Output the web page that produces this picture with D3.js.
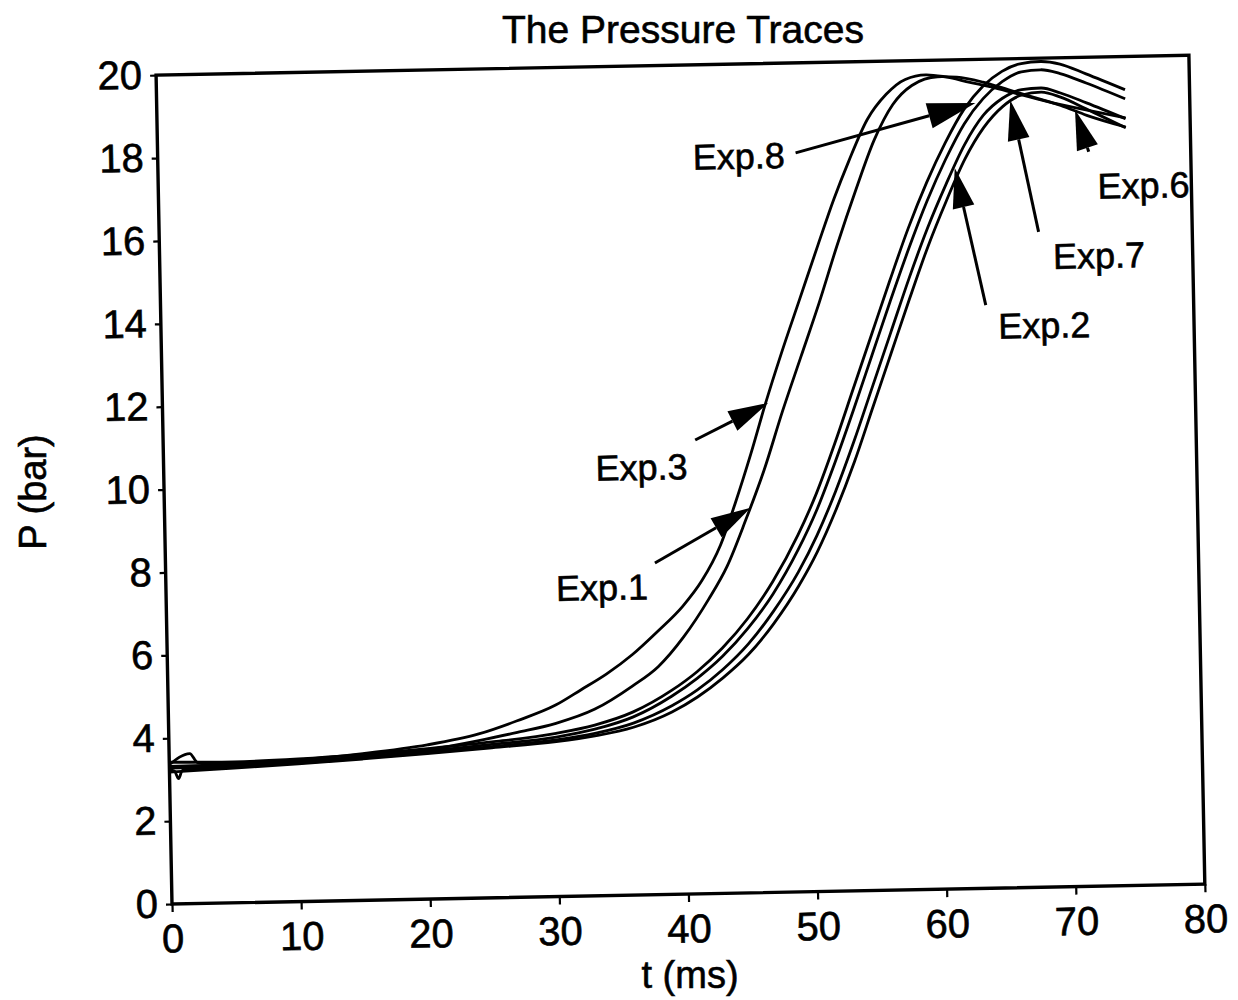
<!DOCTYPE html>
<html>
<head>
<meta charset="utf-8">
<title>The Pressure Traces</title>
<script src="https://cdn.jsdelivr.net/npm/d3@7"></script>
<style>
  body { margin: 0; background: #fff; }
  svg { display: block; }
  text { font-family: "Liberation Sans", Arial, Helvetica, sans-serif; fill: #000; stroke: #000; stroke-width: 0.6px; }
</style>
</head>
<body>
<svg id="chart" width="1238" height="1000"></svg>
<script>
// ---- data: time (ms) vs pressure (bar) ----
const xTicks = [0, 10, 20, 30, 40, 50, 60, 70, 80];
const yTicks = [0, 2, 4, 6, 8, 10, 12, 14, 16, 18, 20];

const exp3 = [[0,3.36],[1.6,3.62],[2.2,3.4],[5,3.38],[10,3.42],[15,3.54],[20,3.72],[24,3.96],[27,4.26],[30,4.62],[32,4.98],[34,5.35],[36,5.8],[38,6.35],[40,6.95],[41.5,7.55],[43,8.4],[44.2,9.4],[45.5,10.6],[46.7,11.8],[48,13.0],[49.5,14.3],[51,15.6],[52.3,16.7],[53.5,17.6],[55,18.6],[56.5,19.2],[58,19.55],[59.6,19.65],[61,19.6],[63,19.45],[65,19.3],[67,19.12],[69,18.95],[71,18.8],[73,18.66],[75,18.52]];
const exp1 = [[0,3.28],[5,3.3],[10,3.35],[15,3.46],[20,3.6],[24,3.8],[27,3.98],[30,4.18],[33,4.5],[36,5.05],[38,5.5],[40,6.2],[42,7.1],[43.5,7.9],[45,9.0],[46.5,10.2],[48,11.6],[49.5,12.9],[51,14.2],[52.5,15.6],[54,16.9],[55.5,18.1],[57,18.95],[58.5,19.4],[60.5,19.6],[62,19.58],[64,19.45],[66,19.25],[68,19.05],[70,18.85],[72,18.6],[75,18.3]];
const exp8 = [[0,3.42],[5,3.4],[10,3.44],[15,3.52],[20,3.63],[25,3.76],[30,3.94],[33,4.12],[36,4.42],[39,4.92],[41,5.36],[43,5.92],[45,6.62],[47,7.5],[49,8.6],[50.5,9.6],[52,10.8],[53.5,12.1],[55,13.4],[56.5,14.7],[58,15.95],[59.5,17.05],[61,18.0],[62.5,18.8],[64,19.35],[65.5,19.7],[67,19.88],[68.5,19.92],[70,19.85],[72,19.6],[75,19.2]];
const exp7 = [[0,3.32],[5,3.34],[10,3.38],[15,3.47],[20,3.57],[25,3.7],[30,3.85],[33,4.02],[36,4.3],[39,4.78],[41,5.2],[43,5.72],[45,6.38],[47,7.2],[49,8.25],[50.5,9.2],[52,10.35],[53.5,11.6],[55,12.9],[56.5,14.2],[58,15.45],[59.5,16.6],[61,17.6],[62.5,18.45],[64,19.05],[65.5,19.45],[67,19.68],[68.5,19.72],[70,19.62],[72,19.38],[75,18.98]];
const exp2 = [[0,3.24],[0.4,3.2],[0.7,3.02],[1.0,3.22],[5,3.29],[10,3.34],[15,3.43],[20,3.53],[25,3.65],[30,3.78],[33,3.92],[36,4.15],[39,4.55],[41,4.92],[43,5.4],[45,6.0],[47,6.78],[49,7.72],[50.5,8.6],[52,9.65],[53.5,10.85],[55,12.15],[56.5,13.45],[58,14.75],[59.5,15.95],[61,17.0],[62.5,17.95],[64,18.65],[65.5,19.05],[67,19.25],[68.5,19.28],[70,19.15],[72,18.9],[75,18.5]];
const exp6 = [[0,3.18],[5,3.25],[10,3.32],[15,3.41],[20,3.51],[25,3.62],[30,3.74],[33,3.86],[36,4.05],[39,4.4],[41,4.75],[43,5.2],[45,5.75],[47,6.48],[49,7.38],[50.5,8.2],[52,9.2],[53.5,10.35],[55,11.65],[56.5,12.95],[58,14.25],[59.5,15.5],[61,16.6],[62.5,17.6],[64,18.35],[65.5,18.85],[67,19.12],[68.5,19.18],[70,19.05],[72,18.75],[75,18.28]];

const series = [exp3, exp1, exp8, exp7, exp2, exp6];

// label text anchor (baseline centre), arrow tail and arrow tip, all in (t, P)
const labelNames = ["Exp.8", "Exp.6", "Exp.7", "Exp.2", "Exp.3", "Exp.1"];
const labelAt    = [[45.0,17.47],[76.3,16.58],[72.75,14.91],[68.4,13.25],[37.0,10.01],[33.76,7.13]];
const arrowFrom  = [[49.4,17.83],[72.1,17.72],[68.1,15.81],[63.9,14.07],[41.2,10.95],[37.9,8.0]];
const arrowTo    = [[63.4,18.95],[71.1,18.74],[66.1,19.0],[61.7,17.39],[46.9,11.81],[45.4,9.29]];

// ---- layout ----
const W = 1033, H = 829;
const x = d3.scaleLinear().domain([0, 80]).range([0, W]);
const y = d3.scaleLinear().domain([0, 20]).range([H, 0]);

const svg = d3.select("#chart");

svg.append("text")
  .attr("x", 683).attr("y", 43)
  .attr("text-anchor", "middle")
  .style("font-size", "39px")
  .text("The Pressure Traces");

svg.append("text")
  .attr("x", 690).attr("y", 988)
  .attr("text-anchor", "middle")
  .style("font-size", "38px")
  .text("t (ms)");

svg.append("text")
  .attr("transform", "translate(46,492) rotate(-90)")
  .attr("text-anchor", "middle")
  .style("font-size", "38px")
  .text("P (bar)");

// plot area, slightly tilted like the printed figure
const g = svg.append("g")
  .attr("transform", `translate(172,904) rotate(-1.1) translate(0,${-H})`);

// traces
const line = d3.line()
  .x(d => x(d[0]))
  .y(d => y(d[1]))
  .curve(d3.curveMonotoneX);

g.append("g")
  .selectAll("path")
  .data(series)
  .join("path")
  .attr("d", line)
  .attr("fill", "none")
  .attr("stroke", "#000")
  .attr("stroke-width", 2.8)
  .attr("stroke-linejoin", "round");

// frame
g.append("rect")
  .attr("width", W).attr("height", H)
  .attr("fill", "none")
  .attr("stroke", "#000")
  .attr("stroke-width", 3.4);

// axes
const gx = g.append("g")
  .attr("transform", `translate(0,${H})`)
  .call(d3.axisBottom(x).tickValues(xTicks).tickSize(8).tickPadding(12).tickFormat(d3.format("d")));
gx.select(".domain").remove();
gx.selectAll(".tick line").attr("stroke-width", 2.2);
gx.selectAll(".tick text").style("font-size", "40px");

const gy = g.append("g")
  .call(d3.axisLeft(y).tickValues(yTicks).tickSize(6).tickPadding(8).tickFormat(d3.format("d")));
gy.select(".domain").remove();
gy.selectAll(".tick line").attr("stroke-width", 2.2);
gy.selectAll(".tick text").style("font-size", "40px");

// annotations
const ann = g.append("g");
labelNames.forEach((name, i) => {
  const [x1, y1] = [x(arrowFrom[i][0]), y(arrowFrom[i][1])];
  const [x2, y2] = [x(arrowTo[i][0]), y(arrowTo[i][1])];
  const dx = x2 - x1, dy = y2 - y1, len = Math.hypot(dx, dy);
  const ux = dx / len, uy = dy / len;
  const headLen = name === "Exp.8" ? 48 : 40, headHalf = name === "Exp.8" ? 13 : 11;
  const bx = x2 - ux * headLen, by = y2 - uy * headLen;
  ann.append("line")
    .attr("x1", x1).attr("y1", y1).attr("x2", bx).attr("y2", by)
    .attr("stroke", "#000").attr("stroke-width", 3);
  ann.append("path")
    .attr("d", `M${x2},${y2}L${bx - uy * headHalf},${by + ux * headHalf}L${bx + uy * headHalf},${by - ux * headHalf}Z`)
    .attr("fill", "#000");
  ann.append("text")
    .attr("x", x(labelAt[i][0])).attr("y", y(labelAt[i][1]))
    .attr("text-anchor", "middle")
    .style("font-size", "36px")
    .text(name);
});
</script>
</body>
</html>
